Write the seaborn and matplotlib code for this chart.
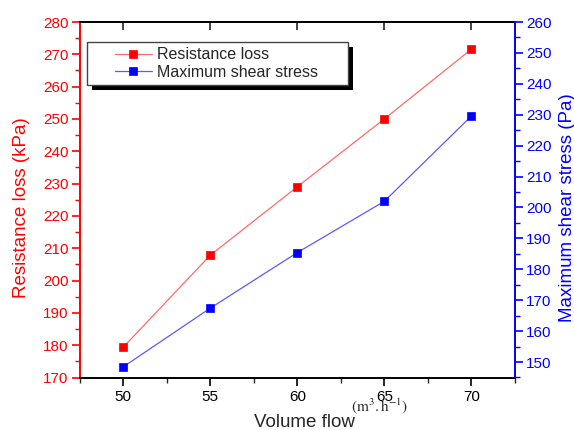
import matplotlib
matplotlib.use("Agg")
import matplotlib.pyplot as plt
from matplotlib.patches import Rectangle
from matplotlib.ticker import MultipleLocator, NullLocator
import pandas as pd
import seaborn as sns

# Measured data
volume_flow = [50, 55, 60, 65, 70]
resistance_loss = [179.3, 207.8, 229.0, 250.0, 271.6]      # kPa
max_shear_stress = [148.4, 167.4, 185.4, 202.0, 229.6]     # Pa

sns.set_style("ticks")
plt.rcParams["font.family"] = ["Liberation Sans", "DejaVu Sans"]
plt.rcParams["mathtext.fontset"] = "stix"

df = pd.DataFrame({"flow": volume_flow,
                   "loss": resistance_loss,
                   "shear": max_shear_stress})

W, H = 574, 430
fig = plt.figure(figsize=(W / 100, H / 100), dpi=100)
L, R, T, B = 79.5, 515.0, 22.0, 377.5
ax = fig.add_axes([L / W, 1 - B / H, (R - L) / W, (B - T) / H])
ax2 = ax.twinx()

sns.lineplot(data=df, x="flow", y="loss", ax=ax, color="#ff6a6a", lw=0.9,
             marker="s", markersize=5.5, markerfacecolor="red",
             markeredgecolor="red", markeredgewidth=0.5,
             label="Resistance loss", legend=False)
sns.lineplot(data=df, x="flow", y="shear", ax=ax2, color="#5a5aff", lw=0.9,
             marker="s", markersize=5.5, markerfacecolor="blue",
             markeredgecolor="blue", markeredgewidth=0.5,
             label="Maximum shear stress", legend=False)

ax.set_xlim(47.5, 72.5)
ax.set_ylim(170, 280)
ax2.set_ylim(145, 260)

ax.xaxis.set_major_locator(MultipleLocator(5))
ax.xaxis.set_minor_locator(MultipleLocator(2.5))
ax.yaxis.set_major_locator(MultipleLocator(10))
ax.yaxis.set_minor_locator(MultipleLocator(5))
ax2.yaxis.set_major_locator(MultipleLocator(10))
ax2.yaxis.set_minor_locator(MultipleLocator(5))

lw = 1.4
for s in ["top", "bottom"]:
    ax.spines[s].set_color("black")
    ax.spines[s].set_linewidth(lw)
ax.spines["left"].set_color("red")
ax.spines["left"].set_linewidth(lw)
ax.spines["right"].set_visible(False)
for s in ["top", "bottom", "left"]:
    ax2.spines[s].set_visible(False)
ax2.spines["right"].set_color("blue")
ax2.spines["right"].set_linewidth(lw)

ax.tick_params(axis="x", which="major", direction="out", length=6, width=1.2,
               colors="black", labelsize=11, pad=3)
ax.tick_params(axis="x", which="minor", direction="out", length=3.5, width=1.0)
ax.tick_params(axis="y", which="major", direction="out", length=6, width=1.2,
               colors="red", labelsize=11, pad=2)
ax.tick_params(axis="y", which="minor", direction="out", length=3.5, width=1.0,
               colors="red")
ax2.tick_params(axis="y", which="major", direction="out", length=6, width=1.2,
                colors="blue", labelsize=11, pad=2)
ax2.tick_params(axis="y", which="minor", direction="out", length=3.5, width=1.0,
                colors="blue")

# inward ticks along the top edge
top = ax.secondary_xaxis("top")
top.xaxis.set_major_locator(MultipleLocator(5))
top.xaxis.set_minor_locator(NullLocator())
top.tick_params(axis="x", which="major", direction="in", length=6, width=1.2,
                labeltop=False)
top.spines["top"].set_linewidth(lw)

# axis titles
ax.set_ylabel("Resistance loss (kPa)", color="red", fontsize=13.5)
ax.yaxis.label.set(ha="center", va="center", rotation_mode="default")
ax.yaxis.set_label_coords((22 - L) / (R - L), (B - 207.5) / (B - T))
ax2.set_ylabel("Maximum shear stress (Pa)", color="blue", fontsize=13.5)
ax2.yaxis.label.set(ha="center", va="center", rotation_mode="default")
ax2.yaxis.set_label_coords((567 - L) / (R - L), (B - 207.5) / (B - T))
ax.set_xlabel("Volume flow", fontsize=13.5)
ax.xaxis.label.set(ha="center", va="baseline")
ax.xaxis.set_label_coords((304 - L) / (R - L), (B - 427) / (B - T))
fig.text(379 / W, 1 - 406 / H, r"$\left(\mathrm{m^{3}.h^{-1}}\right)$",
         fontsize=11, ha="center", va="center")

# legend with a solid drop shadow
bx0, bx1, by0, by1 = 87, 348, 42, 85
def to_ax(px, py):
    return (px - L) / (R - L), (B - py) / (B - T)
x0, y0 = to_ax(bx0, by1)
x1, y1 = to_ax(bx1, by0)
ax2.add_patch(Rectangle((x0 + 4.5 / (R - L), y0 - 4.5 / (B - T)), x1 - x0, y1 - y0,
                        transform=ax2.transAxes, facecolor="black",
                        edgecolor="none", zorder=8, clip_on=False))
ax2.add_patch(Rectangle((x0, y0), x1 - x0, y1 - y0, transform=ax2.transAxes,
                        facecolor="white", edgecolor="#444444", lw=1.0,
                        zorder=9, clip_on=False))
handles = [ax.get_lines()[0], ax2.get_lines()[0]]
leg = ax2.legend(handles, ["Resistance loss", "Maximum shear stress"],
                 loc="center left", bbox_to_anchor=to_ax(115, 63.5),
                 frameon=False, borderpad=0, fontsize=11.5, handlelength=2.3,
                 handletextpad=0.3, labelspacing=0.15, borderaxespad=0)
leg.set_zorder(10)

fig.savefig("out.png", dpi=100)
